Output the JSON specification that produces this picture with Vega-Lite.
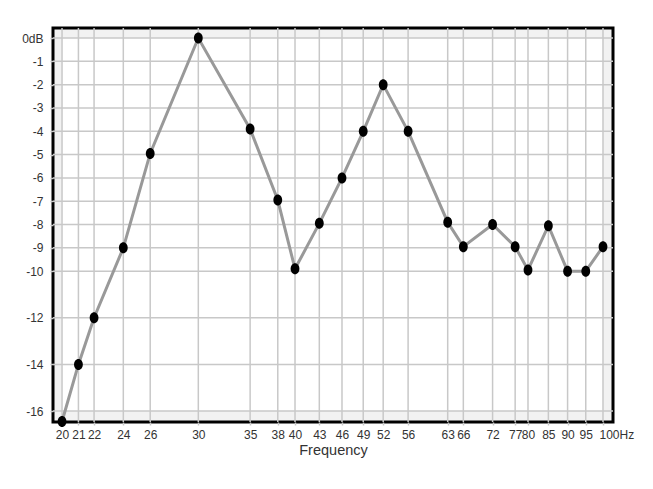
{
  "$schema": "https://vega.github.io/schema/vega-lite/v6.json",
  "autosize": "none",
  "width": 560,
  "height": 394,
  "padding": {"left": 53, "top": 28, "right": 40, "bottom": 67},
  "background": "white",
  "config": {
    "view": {"fill": "#f2f2f2", "stroke": "black", "strokeWidth": 3},
    "font": "Liberation Sans",
    "axis": {"labelFont": "Liberation Sans", "titleFont": "Liberation Sans", "labelColor": "#333333", "titleColor": "#333333", "labelFontSize": 12, "grid": false, "domain": false, "ticks": true, "tickColor": "#c8c8c8", "tickSize": 3, "tickWidth": 1.5, "labelOverlap": false, "labelFlush": false, "labelBound": false}
  },
  "datasets": {
    "resp": [
      {"f": 20, "db": -16.45}, {"f": 21, "db": -14}, {"f": 22, "db": -12}, {"f": 24, "db": -9},
      {"f": 26, "db": -4.95}, {"f": 30, "db": 0}, {"f": 35, "db": -3.9}, {"f": 38, "db": -6.95},
      {"f": 40, "db": -9.9}, {"f": 43, "db": -7.95}, {"f": 46, "db": -6}, {"f": 49, "db": -4},
      {"f": 52, "db": -2}, {"f": 56, "db": -4}, {"f": 63, "db": -7.9}, {"f": 66, "db": -8.95},
      {"f": 72, "db": -8}, {"f": 77, "db": -8.95}, {"f": 80, "db": -9.95}, {"f": 85, "db": -8.05},
      {"f": 90, "db": -10}, {"f": 95, "db": -10}, {"f": 100, "db": -8.95}
    ],
    "xticks": [
      {"f": 20}, {"f": 21}, {"f": 22}, {"f": 24}, {"f": 26}, {"f": 30}, {"f": 35}, {"f": 38},
      {"f": 40}, {"f": 43}, {"f": 46}, {"f": 49}, {"f": 52}, {"f": 56}, {"f": 63}, {"f": 66},
      {"f": 72}, {"f": 77}, {"f": 80}, {"f": 85}, {"f": 90}, {"f": 95}, {"f": 100}
    ],
    "yticks": [
      {"db": 0}, {"db": -1}, {"db": -2}, {"db": -3}, {"db": -4}, {"db": -5}, {"db": -6}, {"db": -7},
      {"db": -8}, {"db": -9}, {"db": -10}, {"db": -12}, {"db": -14}, {"db": -16}
    ],
    "inner": [{"f1": 20, "f2": 100, "d1": -16, "d2": 0}]
  },
  "layer": [
    {
      "data": {"name": "inner"},
      "mark": {"type": "rect", "fill": "white"},
      "encoding": {
        "x": {"field": "f1", "type": "quantitative", "scale": {"type": "log", "domain": [19.47, 103.02], "nice": false},
          "axis": {"values": [20,21,22,24,26,30,35,38,40,43,46,49,52,56,63,66,72,77,80,85,90,95,100], "tickCount": 100,
            "labelExpr": "datum.value == 100 ? '100Hz' : '' + datum.value", "labelPadding": 4,
            "labelAlign": {"condition": {"test": "datum.value == 100", "value": "left"}, "value": "center"},
            "labelOffset": {"condition": {"test": "datum.value == 100", "value": -4}, "value": 0},
            "title": "Frequency", "titleFontSize": 14.5, "titleFontWeight": "normal", "titlePadding": 3, "labelFlush": false, "labelOverlap": false}},
        "x2": {"field": "f2"},
        "y": {"field": "d1", "type": "quantitative", "scale": {"domain": [-16.47, 0.43], "nice": false, "zero": false},
          "axis": {"values": [0,-1,-2,-3,-4,-5,-6,-7,-8,-9,-10,-12,-14,-16], "tickCount": 100,
            "labelExpr": "datum.value == 0 ? '0dB' : '' + datum.value", "labelPadding": 7, "title": null, "labelFlush": false, "labelOverlap": false}},
        "y2": {"field": "d2"}
      }
    },
    {
      "data": {"name": "xticks"},
      "mark": {"type": "rule", "color": "#c8c8c8", "strokeWidth": 1.5},
      "encoding": {"x": {"field": "f", "type": "quantitative"}}
    },
    {
      "data": {"name": "yticks"},
      "mark": {"type": "rule", "color": "#c8c8c8", "strokeWidth": 1.5},
      "encoding": {"y": {"field": "db", "type": "quantitative"}}
    },
    {
      "data": {"name": "resp"},
      "mark": {"type": "line", "color": "#999999", "strokeWidth": 3},
      "encoding": {
        "x": {"field": "f", "type": "quantitative"},
        "y": {"field": "db", "type": "quantitative"}
      }
    },
    {
      "data": {"name": "resp"},
      "mark": {"type": "point", "filled": true, "color": "black", "opacity": 1, "size": 121, "clip": false,
        "shape": "M -0.8 0 A 0.8 1 0 1 0 0.8 0 A 0.8 1 0 1 0 -0.8 0 Z"},
      "encoding": {
        "x": {"field": "f", "type": "quantitative"},
        "y": {"field": "db", "type": "quantitative"}
      }
    }
  ]
}
